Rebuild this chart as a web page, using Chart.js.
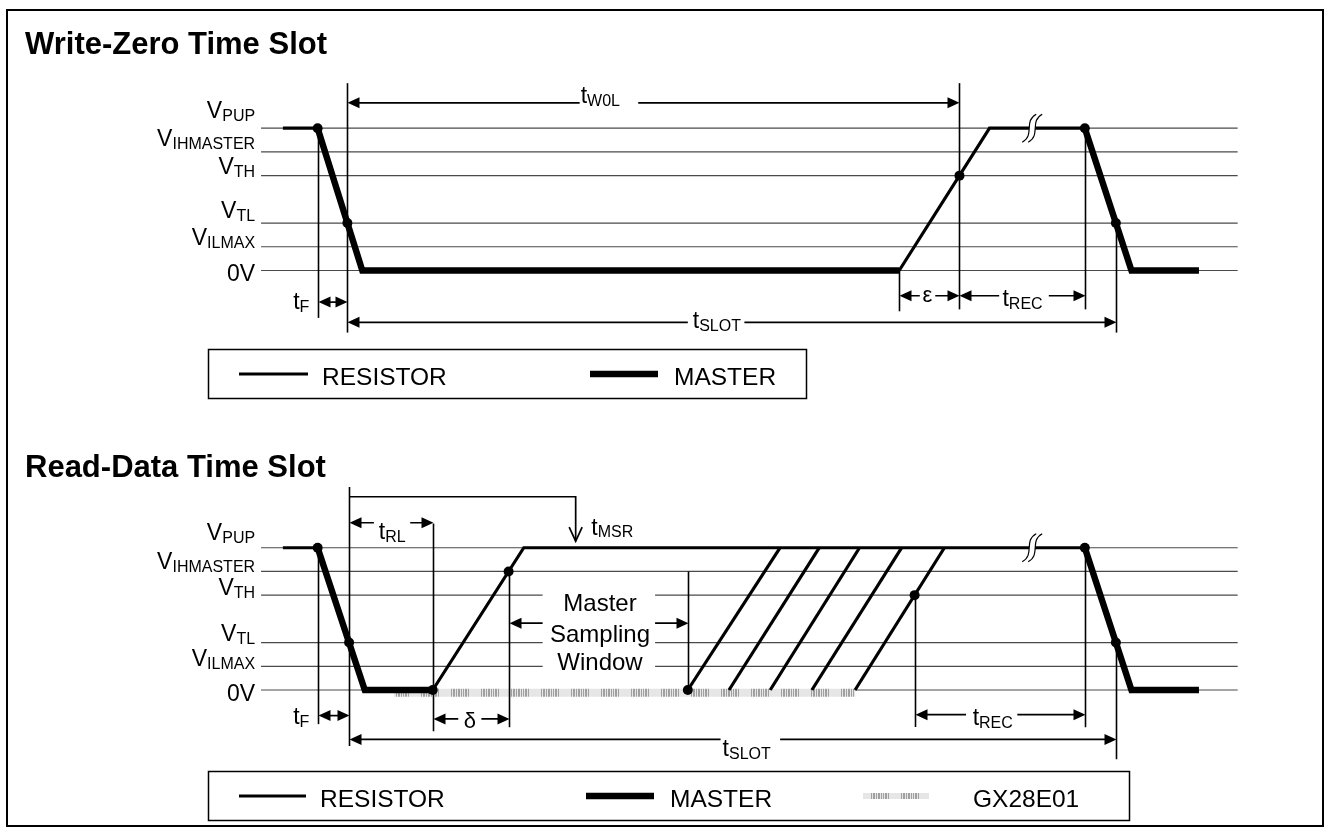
<!DOCTYPE html>
<html><head><meta charset="utf-8">
<script src="https://cdn.jsdelivr.net/npm/chart.js@4/dist/chart.umd.min.js"></script>
<style>html,body{margin:0;padding:0;background:#fff}canvas{display:block}</style>
</head><body>
<canvas id="c" width="1330" height="835"></canvas>
<script>
// ---------- DATA (x: time units, y: volts) ----------
const levelValues = [3.0, 2.5, 2.0, 1.0, 0.5, 0.0];
const levelMain   = ['V', 'V', 'V', 'V', 'V', '0V'];
const levelSub    = ['PUP', 'IHMASTER', 'TH', 'TL', 'ILMAX', ''];
const thresholdSpan = [-8.7, 89.7];

// Write-Zero time slot
const wzResistorA = [[-6.5, 3], [-3, 3]];
const wzMasterA   = [[-3, 3], [1.5, 0], [55.6, 0]];
const wzResistorB = [[55.6, 0], [64.7, 3], [74.3, 3]];
const wzMasterB   = [[74.3, 3], [79.0, 0], [85.8, 0]];
const wzDots      = [[-3, 3], [0, 1], [61.67, 2], [74.3, 3], [77.43, 1]];
const wzMarkers   = [[-3, 3, -1.0], [0, 3.95, -1.31], [55.6, 0, -0.86], [61.67, 3.95, -0.82], [74.3, 3, -0.82], [77.43, 1, -1.31]];
const wzSpans     = [[-3, 0, -0.667, null, null], [0, 61.67, 3.535, 23.4, 29.3], [55.6, 61.67, -0.533, 57.67, 59.23], [61.67, 74.3, -0.533, 65.67, 70.67], [0, 77.43, -1.094, 34.3, 40.0]];
const wzSpanLabels = [['t', 'F'], ['t', 'W0L'], ['\u03b5', ''], ['t', 'REC'], ['t', 'SLOT']];
const wzLabelAt   = [[-3.83, -0.667], [23.5, 3.535], [58.43, -0.533], [66.0, -0.533], [34.8, -1.094]];
const wzBreakAt   = [69.1, 3];

// Read-Data time slot
const rdResistorA = [[-6.5, 3], [-3, 3]];
const rdMasterA   = [[-3, 3], [1.75, 0], [8.6, 0]];
const rdResistorB = [[8.6, 0], [17.77, 3], [74.3, 3]];
const rdMasterB   = [[74.3, 3], [79.0, 0], [85.8, 0]];
const rdSlaveBand = [[4.77, -0.06], [51.15, -0.06]];
const rdLateRiseStart = [34.3, 38.45, 42.6, 46.8, 51.15];
const rdLateRiseEnd   = [43.6, 47.55, 51.6, 55.85, 60.15];
const rdDots      = [[-3, 3], [0.17, 1], [8.6, 0], [16.24, 2.5], [34.3, 0], [57.15, 2], [74.3, 3], [77.43, 1]];
const rdMarkers   = [[-3, 3, -0.72], [0.17, 4.28, -1.18], [8.6, 3.51, -0.87], [16.24, 2.5, -0.785], [34.3, 2.5, 0], [57.15, 2, -0.78], [74.3, 3, -0.785], [77.43, 1, -1.46]];
const rdSpans     = [[-3, 0.17, -0.54, null, null], [0.17, 8.6, 3.527, 2.67, 6.33], [8.6, 16.24, -0.61, 11.17, 13.5], [16.24, 34.3, 1.41, 19.67, 31.0], [57.15, 74.3, -0.52, 62.33, 67.5], [0.17, 77.43, -1.042, 37.6, 43.6]];
const rdSpanLabels = [['t', 'F'], ['t', 'RL'], ['\u03b4', ''], ['', ''], ['t', 'REC'], ['t', 'SLOT']];
const rdLabelAt   = [[-3.83, -0.54], [3.17, 3.527], [12.33, -0.61], [25.45, 1.41], [63.0, -0.52], [37.8, -1.042]];
const rdMsrPath   = [[0.17, 4.075], [23.0, 4.075], [23.0, 3.137]];
const rdMsrLabel  = ['t', 'MSR'];
const rdMsrLabelAt = [24.57, 3.26];
const windowText  = ['Master', 'Sampling', 'Window'];
const windowTextAt = [[25.45, 1.8], [25.45, 1.15], [25.45, 0.57]];
const windowBox   = [19.67, 31.0, 0.2, 2.2];
const rdBreakAt   = [69.1, 3];

const titles = ['Write-Zero Time Slot', 'Read-Data Time Slot'];
const legendTop = ['RESISTOR', 'MASTER'];
const legendBottom = ['RESISTOR', 'MASTER', 'GX28E01'];

// ---------- STYLE ----------
const FONT = '"Liberation Sans", Arial, Helvetica, sans-serif';
const RES_W = 3.2, MAS_W = 6.4;
const wzLabelAlign = ['right', 'left', 'center', 'left', 'left'];
const wzLabelDy = [7.3, 0.5, 6.4, 10.7, 5.7];
const rdLabelAlign = ['right', 'left', 'center', 'center', 'left', 'left'];
const rdLabelDy = [8.7, 16, 9, 0, 10, 16.7];
const levelDyTop = [-10, -6, -2, -5, -2, 10.5];
const levelDyBot = [-7.6, -2, 0, -1.3, 0, 10.5];

function makePattern(ctx) {
  const c = document.createElement('canvas'); c.width = 30; c.height = 8;
  const g = c.getContext('2d');
  g.fillStyle = '#e6e6e6'; g.fillRect(0, 0, 30, 8);
  g.fillStyle = '#a0a0a0';
  [1, 3, 4, 6, 8, 9, 11, 13, 15, 16, 18].forEach(x => g.fillRect(x, 0, 1, 8));
  return ctx.createPattern(c, 'repeat');
}

const canvas = document.getElementById('c');
const bandPattern = makePattern(canvas.getContext('2d'));

function pts(a) { return a.map(p => ({ x: p[0], y: p[1] })); }
function lineDs(data, axis, width, color, order) {
  return { type: 'line', data: pts(data), yAxisID: axis, xAxisID: 'x', borderColor: color, borderWidth: width,
    pointRadius: 0, tension: 0, fill: false, clip: false, order: order, borderJoinStyle: 'miter', borderCapStyle: 'butt' };
}
function dotDs(data, axis) {
  return { type: 'line', data: pts(data), yAxisID: axis, xAxisID: 'x', showLine: false, pointRadius: 5,
    pointBackgroundColor: '#000', pointBorderColor: '#000', pointBorderWidth: 0, clip: false, order: 1 };
}

const datasets = [];
levelValues.forEach(v => {
  datasets.push(lineDs([[thresholdSpan[0], v], [thresholdSpan[1], v]], 'yTop', 1.2, '#4a4a4a', 10));
  datasets.push(lineDs([[thresholdSpan[0], v], [thresholdSpan[1], v]], 'yBot', 1.2, '#4a4a4a', 10));
});
datasets.push(lineDs(rdSlaveBand, 'yBot', 8, bandPattern, 8));
datasets.push(lineDs(wzResistorA, 'yTop', RES_W, '#000', 6));
datasets.push(lineDs(wzResistorB, 'yTop', RES_W, '#000', 6));
datasets.push(lineDs(rdResistorA, 'yBot', RES_W, '#000', 6));
datasets.push(lineDs(rdResistorB, 'yBot', RES_W, '#000', 6));
rdLateRiseStart.forEach((s, i) => datasets.push(lineDs([[s, 0], [rdLateRiseEnd[i], 3]], 'yBot', RES_W, '#000', 6)));
datasets.push(lineDs(wzMasterA, 'yTop', MAS_W, '#000', 4));
datasets.push(lineDs(wzMasterB, 'yTop', MAS_W, '#000', 4));
datasets.push(lineDs(rdMasterA, 'yBot', MAS_W, '#000', 4));
datasets.push(lineDs(rdMasterB, 'yBot', MAS_W, '#000', 4));
datasets.push(dotDs(wzDots, 'yTop'));
datasets.push(dotDs(rdDots, 'yBot'));

function subText(ctx, main, sub, x, y, align, mainPx, subPx, subDy) {
  ctx.textAlign = 'left'; ctx.textBaseline = 'alphabetic';
  ctx.font = mainPx + 'px ' + FONT; const wm = ctx.measureText(main).width;
  ctx.font = subPx + 'px ' + FONT; const ws = sub ? ctx.measureText(sub).width : 0;
  const x0 = align === 'right' ? x - wm - ws : (align === 'center' ? x - (wm + ws) / 2 : x);
  ctx.font = mainPx + 'px ' + FONT; ctx.fillText(main, x0, y);
  if (sub) { ctx.font = subPx + 'px ' + FONT; ctx.fillText(sub, x0 + wm, y + subDy); }
}
function arrowHead(ctx, xt, y, dir) {
  ctx.beginPath(); ctx.moveTo(xt, y); ctx.lineTo(xt - dir * 12, y - 5.5); ctx.lineTo(xt - dir * 12, y + 5.5); ctx.closePath(); ctx.fill();
}
function breakMark(ctx, cx, cy) {
  const c = (o) => [[cx + 6 + o, cy - 14], [cx - 7 + o, cy - 7], [cx + 5 + o, cy + 7], [cx - 8 + o, cy + 14]];
  const a = c(-3), b = c(3);
  ctx.save();
  ctx.beginPath(); ctx.moveTo(...a[0]); ctx.bezierCurveTo(...a[1], ...a[2], ...a[3]);
  ctx.lineTo(...b[3]); ctx.bezierCurveTo(...b[2], ...b[1], ...b[0]); ctx.closePath();
  ctx.fillStyle = '#fff'; ctx.fill();
  ctx.lineWidth = 1.2; ctx.strokeStyle = '#000';
  [a, b].forEach(s => { ctx.beginPath(); ctx.moveTo(...s[0]); ctx.bezierCurveTo(...s[1], ...s[2], ...s[3]); ctx.stroke(); });
  ctx.restore();
}

const diagram = {
  id: 'diagram',
  afterDatasetsDraw(chart) {
    const ctx = chart.ctx, X = chart.scales.x;
    const panels = [
      { Y: chart.scales.yTop, markers: wzMarkers, spans: wzSpans, labels: wzSpanLabels, at: wzLabelAt, align: wzLabelAlign, dy: wzLabelDy, lvl: levelDyTop, brk: wzBreakAt },
      { Y: chart.scales.yBot, markers: rdMarkers, spans: rdSpans, labels: rdSpanLabels, at: rdLabelAt, align: rdLabelAlign, dy: rdLabelDy, lvl: levelDyBot, brk: rdBreakAt }
    ];
    const Yb = chart.scales.yBot;
    ctx.save();
    ctx.fillStyle = '#fff';
    ctx.fillRect(X.getPixelForValue(windowBox[0]), Yb.getPixelForValue(windowBox[3]),
      X.getPixelForValue(windowBox[1]) - X.getPixelForValue(windowBox[0]), Yb.getPixelForValue(windowBox[2]) - Yb.getPixelForValue(windowBox[3]));
    panels.forEach(p => {
      const Y = p.Y;
      breakMark(ctx, X.getPixelForValue(p.brk[0]), Y.getPixelForValue(p.brk[1]));
      ctx.strokeStyle = '#000'; ctx.fillStyle = '#000';
      ctx.lineWidth = 1.6;
      p.markers.forEach(m => {
        const x = Math.round(X.getPixelForValue(m[0])) + 0.5;
        ctx.beginPath(); ctx.moveTo(x, Y.getPixelForValue(m[1])); ctx.lineTo(x, Y.getPixelForValue(m[2])); ctx.stroke();
      });
      ctx.lineWidth = 1.7;
      p.spans.forEach(s => {
        const x1 = Math.round(X.getPixelForValue(s[0])) + 0.5, x2 = Math.round(X.getPixelForValue(s[1])) + 0.5, y = Y.getPixelForValue(s[2]);
        ctx.beginPath();
        if (s[3] !== null) {
          ctx.moveTo(x1 + 6, y); ctx.lineTo(X.getPixelForValue(s[3]), y);
          ctx.moveTo(X.getPixelForValue(s[4]), y); ctx.lineTo(x2 - 6, y);
        } else { ctx.moveTo(x1 + 6, y); ctx.lineTo(x2 - 6, y); }
        ctx.stroke();
        arrowHead(ctx, x1, y, -1); arrowHead(ctx, x2, y, 1);
      });
      p.labels.forEach((l, i) => {
        if (!l[0]) return;
        const greek = !l[1] && l[0] !== 't';
        subText(ctx, l[0], l[1], X.getPixelForValue(p.at[i][0]), Y.getPixelForValue(p.at[i][1]) + p.dy[i], p.align[i], greek ? 22 : 23, 16, 3);
      });
      ctx.fillStyle = '#000';
      levelValues.forEach((v, i) => {
        subText(ctx, levelMain[i], levelSub[i], X.getPixelForValue(-9.3), Y.getPixelForValue(v) + p.lvl[i], 'right', 23, 16, 3);
      });
    });
    ctx.lineWidth = 1.7;
    ctx.beginPath();
    rdMsrPath.forEach((q, i) => { const x = X.getPixelForValue(q[0]), y = Yb.getPixelForValue(q[1]); i ? ctx.lineTo(x, y) : ctx.moveTo(x, y); });
    ctx.stroke();
    const tip = rdMsrPath[rdMsrPath.length - 1];
    const tx = X.getPixelForValue(tip[0]), ty = Yb.getPixelForValue(tip[1]);
    ctx.beginPath(); ctx.moveTo(tx - 6.5, ty - 14); ctx.lineTo(tx, ty); ctx.lineTo(tx + 6.5, ty - 14); ctx.stroke();
    subText(ctx, rdMsrLabel[0], rdMsrLabel[1], X.getPixelForValue(rdMsrLabelAt[0]), Yb.getPixelForValue(rdMsrLabelAt[1]), 'left', 23, 16, 2);
    ctx.font = '24px ' + FONT; ctx.textAlign = 'center'; ctx.textBaseline = 'middle';
    windowText.forEach((t, i) => ctx.fillText(t, X.getPixelForValue(windowTextAt[i][0]), Yb.getPixelForValue(windowTextAt[i][1])));
    ctx.restore();
  },
  afterDraw(chart) {
    const ctx = chart.ctx;
    ctx.save();
    ctx.strokeStyle = '#000'; ctx.fillStyle = '#000';
    ctx.lineWidth = 2; ctx.strokeRect(7, 10, 1316, 816);
    ctx.font = 'bold 31px ' + FONT; ctx.textAlign = 'left'; ctx.textBaseline = 'alphabetic';
    ctx.fillText(titles[0], 25, 54); ctx.fillText(titles[1], 25, 477);
    const boxes = [
      { x: 208, y: 349, w: 598, items: legendTop, sx: [[239, 308, 322], [590, 658, 674]] },
      { x: 208, y: 771, w: 921, items: legendBottom, sx: [[239, 306, 320], [586, 654, 670], [863, 929, 973]] }
    ];
    boxes.forEach(b => {
      ctx.lineWidth = 1.5; ctx.strokeStyle = '#000';
      ctx.strokeRect(b.x + 0.5, b.y + 0.5, b.w, 49);
      const cy = b.y + 25;
      b.items.forEach((name, i) => {
        const sx = b.sx[i];
        if (i === 2) { ctx.fillStyle = bandPattern; ctx.fillRect(sx[0], cy - 3, sx[1] - sx[0], 6); }
        else { ctx.lineWidth = i === 0 ? RES_W : MAS_W; ctx.beginPath(); ctx.moveTo(sx[0], cy); ctx.lineTo(sx[1], cy); ctx.stroke(); }
        ctx.fillStyle = '#000'; ctx.font = '24.5px ' + FONT; ctx.textAlign = 'left'; ctx.textBaseline = 'alphabetic';
        ctx.fillText(name, sx[2], b.y + 36);
      });
    });
    ctx.restore();
  }
};

new Chart(canvas, {
  data: { datasets: datasets },
  options: {
    responsive: false, animation: false, devicePixelRatio: 1, events: [],
    layout: { padding: 0 },
    plugins: { legend: { display: false }, tooltip: { enabled: false } },
    scales: {
      x: { type: 'linear', min: -34.5, max: 98.5, display: false },
      yTop: { type: 'linear', min: -11.798, max: 5.598, display: false },
      yBot: { type: 'linear', min: -2.952, max: 14.444, display: false }
    }
  },
  plugins: [diagram]
});
</script>
</body></html>
